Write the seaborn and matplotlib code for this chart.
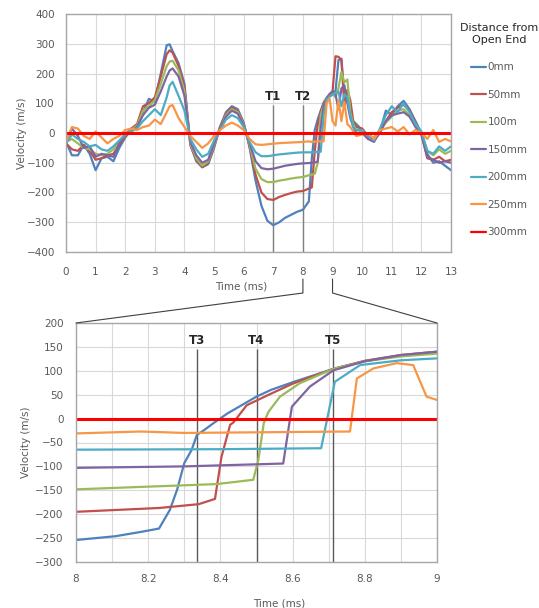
import numpy as np
import pandas as pd
import matplotlib
matplotlib.use("Agg")
import matplotlib.pyplot as plt
import seaborn as sns
from matplotlib.lines import Line2D
from matplotlib.ticker import MultipleLocator, FuncFormatter

LABELS = ["0mm", "50mm", "100m", "150mm", "200mm", "250mm", "300mm"]
COLORS = ["#4F81BD", "#C0504D", "#9BBB59", "#8064A2", "#4BACC6", "#F79646", "#FF0000"]

# ---- top chart (0 - 13 ms), shared time base for the six measured series
T_TOP = [0.0, 0.2, 0.4, 0.6, 0.8, 1.0, 1.2, 1.4, 1.6, 1.8, 2.0,
         2.2, 2.4, 2.6, 2.8, 3.0, 3.2, 3.4, 3.5, 3.6, 3.8, 4.0,
         4.2, 4.4, 4.6, 4.8, 5.0, 5.2, 5.4, 5.6, 5.8, 6.0,
         6.2, 6.4, 6.6, 6.8, 7.0, 7.2, 7.4, 7.6, 7.8, 8.0,
         8.2, 8.3, 8.4, 8.5, 8.6, 8.7, 8.8, 8.9, 9.0,
         9.1, 9.2, 9.3, 9.4, 9.5, 9.6, 9.7, 9.8,
         10.0, 10.2, 10.4, 10.6, 10.8, 11.0, 11.2, 11.4, 11.6, 11.8,
         12.0, 12.2, 12.4, 12.6, 12.8, 13.0]

V0_TOP = [-30, -75, -75, -40, -70, -125, -85, -80, -95, -50, -15,
          10, 20, 70, 115, 105, 200, 295, 298, 275, 235, 165,
          -40, -95, -115, -105, -50, 20, 70, 90, 80, 35,
          -50, -160, -245, -295, -310, -300, -285, -275, -265, -258,
          -230, -85, 10, 46, 75, 102, 118, 130, 138,
          140, 245, 250, 120, 135, 60, 40, 30,
          10, -15, -20, 5, 75, 60, 90, 108, 80, 40,
          0, -70, -100, -95, -110, -125]
V50_TOP = [-35, -55, -60, -40, -60, -90, -85, -75, -70, -40, -10,
           15, 30, 90, 100, 120, 190, 265, 278, 270, 225, 155,
           -40, -90, -115, -100, -45, 20, 65, 85, 75, 30,
           -45, -140, -200, -222, -225, -215, -208, -202, -197, -195,
           -187, -183, -60, 28, 70, 100, 118, 130, 140,
           258, 256, 245, 90, 145, 110, 40, 20,
           15, -10, -25, 0, 40, 70, 85, 95, 75, 35,
           -5, -85, -90, -80, -95, -90]
V100_TOP = [-30, -20, -35, -50, -55, -70, -75, -70, -55, -30, -5,
            10, 25, 75, 90, 110, 165, 225, 240, 243, 210, 140,
            -35, -85, -110, -95, -40, 15, 60, 80, 70, 28,
            -40, -120, -155, -165, -165, -160, -157, -153, -150, -148,
            -142, -140, -137, -100, 60, 95, 117, 130, 136,
            120, 150, 205, 170, 180, 70, 30, 10,
            5, -20, -15, 10, 35, 55, 75, 80, 60, 30,
            0, -60, -75, -55, -70, -60]
V150_TOP = [-30, 15, -10, -50, -45, -80, -70, -75, -80, -35, 0,
            5, 20, 60, 85, 95, 140, 190, 210, 217, 190, 125,
            -30, -75, -100, -90, -35, 15, 55, 75, 65, 25,
            -35, -95, -118, -122, -120, -115, -110, -107, -104, -102,
            -101, -100, -99, -96, 15, 93, 115, 130, 140,
            130, 80, 150, 160, 100, 50, 20, 0,
            0, -20, -30, 5, 40, 60, 65, 70, 55, 20,
            -5, -80, -90, -100, -95, -100]
V200_TOP = [-35, -5, -20, -30, -45, -40, -55, -60, -45, -25, -5,
            5, 15, 40, 60, 80, 60, 120, 160, 172, 125, 75,
            -20, -55, -80, -70, -25, 10, 45, 60, 50, 20,
            -30, -65, -78, -78, -75, -72, -70, -68, -66, -65,
            -65, -65, -64, -64, -63, 60, 112, 122, 128,
            135, 140, 90, 130, 120, 60, 20, 10,
            10, -10, -25, 15, 60, 90, 70, 100, 70, 30,
            5, -60, -70, -45, -60, -45]
V250_TOP = [-30, 20, 15, -10, -20, 5, -15, -35, -20, -10, 10,
            15, 10, 20, 25, 45, 30, 70, 90, 94, 50, 20,
            -10, -30, -50, -35, -10, 10, 25, 35, 25, 10,
            -20, -38, -40, -38, -36, -34, -33, -32, -31, -30,
            -28, -30, -29, -28, -28, -28, 100, 116, 40,
            25, 110, 40, 105, 30, 20, 5, -10,
            -5, 0, -20, 10, 15, 20, 5, 20, -5, 10,
            0, -20, 10, -30, -20, -28]
T300_TOP = [0.0, 13.0]
V300_TOP = [0, 0]

# ---- bottom chart (zoom 8 - 9 ms), each series read on its own time base
T0_BOT = [8.0, 8.11, 8.18, 8.23, 8.26, 8.28, 8.30, 8.32, 8.335, 8.355, 8.38, 8.42,
          8.5, 8.54, 8.6, 8.713, 8.8, 8.9, 9.0]
V0_BOT = [-254, -246, -237, -230, -191, -149, -93, -66, -34, -24, -10, 11,
          46, 60, 76, 104, 120, 132, 138]
T50_BOT = [8.0, 8.23, 8.34, 8.385, 8.403, 8.427, 8.436, 8.473, 8.537, 8.6, 8.713, 8.8, 8.9, 9.0]
V50_BOT = [-195, -187, -179, -168, -80, -13, -8, 28, 51, 73, 104, 121, 133, 140]
T100_BOT = [8.0, 8.39, 8.491, 8.505, 8.52, 8.533, 8.565, 8.62, 8.713, 8.8, 8.9, 9.0]
V100_BOT = [-148, -137, -128, -87, -10, 14, 46, 74, 104, 120, 130, 136]
T150_BOT = [8.0, 8.3, 8.574, 8.598, 8.648, 8.713, 8.8, 8.9, 9.0]
V150_BOT = [-103, -100, -94, 25, 67, 101, 120, 133, 140]
T200_BOT = [8.0, 8.4, 8.679, 8.717, 8.787, 8.9, 9.0]
V200_BOT = [-65, -64, -62, 77, 112, 122, 126]
T250_BOT = [8.0, 8.18, 8.3, 8.759, 8.778, 8.824, 8.888, 8.934, 8.971, 9.0]
V250_BOT = [-31, -27, -30, -27, 84, 105, 116, 112, 46, 39]
T300_BOT = [8.0, 9.0]
V300_BOT = [0, 0]

TOP_MARKS = [7.0, 8.0]
TOP_MARK_NAMES = ["T1", "T2"]
BOT_MARKS = [8.334, 8.5, 8.713]
BOT_MARK_NAMES = ["T3", "T4", "T5"]

W, H = 539, 608
GRAY = "#595959"


def long_frame(times, values):
    parts = []
    for lab, t, v in zip(LABELS, times, values):
        parts.append(pd.DataFrame({"time": t, "velocity": v, "series": lab}))
    return pd.concat(parts, ignore_index=True)


top_df = long_frame([T_TOP] * 6 + [T300_TOP],
                    [V0_TOP, V50_TOP, V100_TOP, V150_TOP, V200_TOP, V250_TOP, V300_TOP])
bot_df = long_frame([T0_BOT, T50_BOT, T100_BOT, T150_BOT, T200_BOT, T250_BOT, T300_BOT],
                    [V0_BOT, V50_BOT, V100_BOT, V150_BOT, V200_BOT, V250_BOT, V300_BOT])

sns.set_style("whitegrid")
plt.rcParams["font.family"] = ["DejaVu Sans"]

fig = plt.figure(figsize=(W / 100, H / 100), dpi=100)
ax1 = fig.add_axes([66 / W, 1 - 252 / H, 385 / W, 238 / H])
ax2 = fig.add_axes([76 / W, 1 - 562 / H, 361 / W, 239 / H])

for ax, df, show_leg in [(ax1, top_df, True), (ax2, bot_df, False)]:
    sns.lineplot(data=df, x="time", y="velocity", hue="series", hue_order=LABELS,
                 palette=COLORS, estimator=None, errorbar=None, sort=False,
                 linewidth=1.6, legend=show_leg, ax=ax)
    ax.lines[6].set_linewidth(2.2)
    ax.grid(True, which="both", color="#D9D9D9", linewidth=0.8)
    ax.set_axisbelow(True)
    for sp in ax.spines.values():
        sp.set_color("#A6A6A6")
        sp.set_linewidth(1.0)
    ax.tick_params(which="both", length=0, labelsize=7.5, labelcolor=GRAY)
    ax.set_xlabel("Time (ms)", fontsize=7.5, color=GRAY)
    ax.set_ylabel("Velocity (m/s)", fontsize=7.5, color=GRAY)

# top axes
ax1.set_xlim(0, 13)
ax1.set_ylim(-400, 400)
ax1.set_xticks(range(0, 14))
ax1.set_yticks(range(-400, 401, 100))
ax1.tick_params(axis="x", pad=11)
ax1.tick_params(axis="y", pad=8)
ax1.xaxis.set_label_coords(0.455, -0.122)
ax1.yaxis.set_label_coords(-0.101, 0.5)
ax1.vlines(TOP_MARKS, -400, 94, color="#7F7F7F", linewidth=1.0, zorder=1.8)
for x, name in zip(TOP_MARKS, TOP_MARK_NAMES):
    ax1.text(x, 124, name, ha="center", va="center", fontsize=8.5, fontweight="bold")

# bottom axes
ax2.set_xlim(8, 9)
ax2.set_ylim(-300, 200)
ax2.xaxis.set_major_locator(MultipleLocator(0.2))
ax2.xaxis.set_minor_locator(MultipleLocator(0.1))
ax2.xaxis.set_major_formatter(FuncFormatter(lambda v, p: f"{v:g}"))
ax2.set_yticks(range(-300, 201, 50))
ax2.tick_params(axis="x", pad=9)
ax2.tick_params(axis="y", pad=9)
ax2.xaxis.set_label_coords(0.562, -0.151)
ax2.yaxis.set_label_coords(-0.125, 0.5)
ax2.vlines(BOT_MARKS, -300, 145, color="#595959", linewidth=1.0, zorder=1.8)
for x, name in zip(BOT_MARKS, BOT_MARK_NAMES):
    ax2.text(x, 164, name, ha="center", va="center", fontsize=8.5, fontweight="bold")

sns.move_legend(ax1, "upper left", bbox_to_anchor=(455 / W, 1 - 18 / H),
                bbox_transform=fig.transFigure, title="Distance from\nOpen End",
                frameon=False, fontsize=7.5, title_fontsize=8, handlelength=1.4,
                handletextpad=0.15, labelspacing=1.68, borderpad=0)
leg = ax1.get_legend()
leg.get_title().set_multialignment("center")
leg.get_title().set_color("#262626")
for txt in leg.get_texts():
    txt.set_color(GRAY)

# zoom connector between the two charts
to_fig = fig.transFigure.inverted()
fig.canvas.draw()
for t_top, corner in [(8.0, (8.0, 200)), (9.0, (9.0, 200))]:
    px, py = ax1.transData.transform((t_top, -400))
    cx, cy = ax2.transData.transform(corner)
    pts = [(px, py - 27), (px, py - 41), (cx, cy)]
    xs, ys = zip(*[to_fig.transform(p) for p in pts])
    fig.add_artist(Line2D(xs, ys, transform=fig.transFigure, color="#404040", linewidth=0.8))

fig.savefig("out.png", dpi=100)
